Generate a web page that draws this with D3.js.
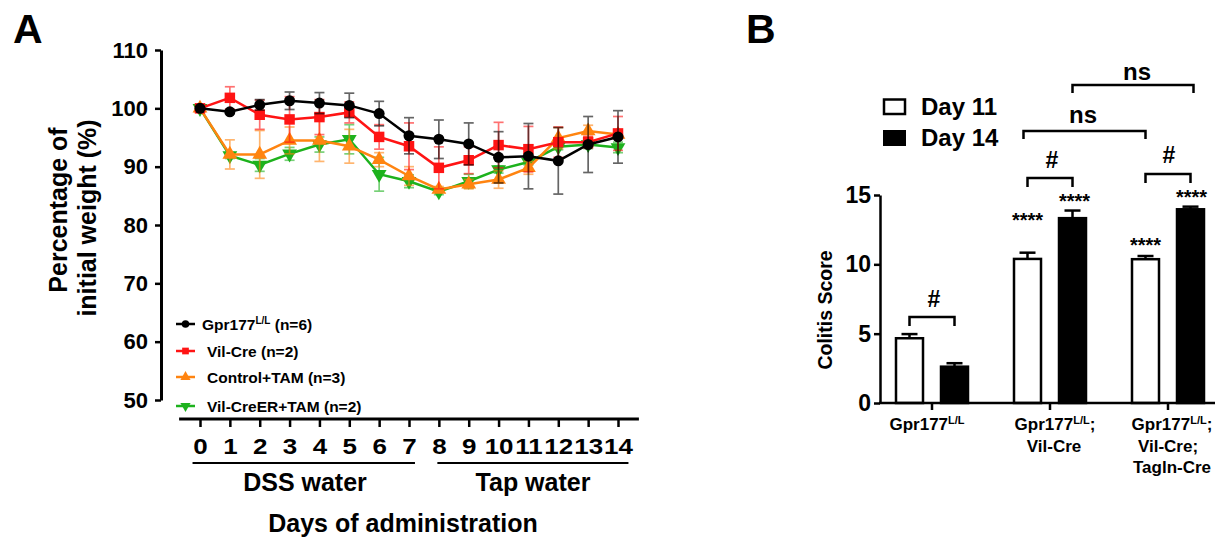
<!DOCTYPE html>
<html><head><meta charset="utf-8">
<script src="https://cdn.jsdelivr.net/npm/d3@7"></script>
<style>
body{margin:0;background:#fff}
svg text{font-family:"Liberation Sans",Arial,Helvetica,sans-serif;font-weight:bold;fill:#000}
</style></head><body>
<svg id="c" width="1223" height="541"></svg>
<script>
// ---------- Panel A data ----------
const days = [0,1,2,3,4,5,6,7,8,9,10,11,12,13,14];
const yTicksA = [50,60,70,80,90,100,110];
const gprMean = [100,99.4,100.6,101.3,100.9,100.5,99.1,95.3,94.7,93.9,91.6,91.8,91.0,93.8,95.1];
const gprErr  = [0,0.3,0.9,1.5,1.8,2.1,2.1,3.1,3.3,3.6,4.4,5.6,5.7,4.8,4.5];
const vilMean = [100,101.8,98.9,98.1,98.5,99.3,95.1,93.5,89.8,91.1,93.7,93.0,94.2,94.2,95.7];
const vilErr  = [0,1.9,2.5,3.9,3.0,1.8,2.1,4.0,3.6,2.3,3.9,3.9,2.6,1.0,2.9];
const ctlMean = [100,92.1,92.1,94.5,94.5,93.5,91.2,88.4,86.1,87.0,87.8,89.8,94.9,96.1,95.5];
const ctlErr  = [0,2.5,4.1,2.3,3.6,2.9,1.2,1.6,0.5,0.8,1.5,1.1,1.8,1.0,0.6];
const ertMean = [100,91.9,90.3,92.2,93.8,94.7,88.7,87.5,85.7,87.5,89.5,90.8,93.4,93.8,93.3];
const ertErr  = [0,0.5,1.1,1.1,1.3,2.5,2.9,1.1,0.5,1.2,0.6,0.5,0.5,0.7,0.9];
const seriesNames = ["Gpr177","Vil-Cre (n=2)","Control+TAM (n=3)","Vil-CreER+TAM (n=2)"];

// ---------- Panel B data ----------
const groupsB = ["g1","g2","g3"];
const day11 = [4.67,10.39,10.37];
const day11Err = [0.30,0.45,0.23];
const day14 = [2.62,13.33,13.97];
const day14Err = [0.25,0.55,0.19];
const yTicksB = [0,5,10,15];

const svg = d3.select("#c");
const FONT = '"Liberation Sans",Arial,sans-serif';

// Panel labels
svg.append("text").attr("x",13).attr("y",43).style("font-size","41px").text("A");
svg.append("text").attr("x",746).attr("y",43).style("font-size","41px").text("B");

// ================= Panel A =================
const xA = d3.scaleLinear().domain([0,14]).range([200,618]);
const yA = d3.scaleLinear().domain([50,110]).range([400,50]);

const gy = svg.append("g").attr("transform","translate(161,0)")
  .call(d3.axisLeft(yA).tickValues(yTicksA).tickSize(6).tickPadding(7).tickSizeOuter(0));
gy.select(".domain").attr("stroke","#000").attr("stroke-width",3);
gy.selectAll(".tick line").attr("stroke-width",2.5);
gy.selectAll(".tick text").style("font-size","22px").style("font-family",FONT).style("font-weight","bold").attr("fill","#000");

const gx = svg.append("g").attr("transform","translate(0,419)")
  .call(d3.axisBottom(xA).tickValues(days).tickSize(8).tickPadding(11));
gx.select(".domain").remove();
gx.append("line").attr("x1",xA(-0.7)).attr("x2",xA(14.7)).attr("stroke","#000").attr("stroke-width",3);
gx.selectAll(".tick line").attr("stroke-width",2.5);
gx.selectAll(".tick text").style("font-size","22px").style("font-family",FONT).style("font-weight","bold").attr("fill","#000")
  .attr("transform","scale(1.18,1)");

// phase underlines
svg.append("line").attr("x1",xA(-0.25)).attr("x2",xA(7.2)).attr("y1",463).attr("y2",463).attr("stroke","#000").attr("stroke-width",2);
svg.append("line").attr("x1",xA(7.95)).attr("x2",xA(14.35)).attr("y1",463).attr("y2",463).attr("stroke","#000").attr("stroke-width",2);
svg.append("text").attr("x",305).attr("y",491).attr("text-anchor","middle").style("font-size","25px").text("DSS water");
svg.append("text").attr("x",533).attr("y",491).attr("text-anchor","middle").style("font-size","25px").text("Tap water");
svg.append("text").attr("x",403).attr("y",532).attr("text-anchor","middle").style("font-size","25px").text("Days of administration");

// y title
svg.append("text").attr("transform","translate(67,210) rotate(-90)").attr("text-anchor","middle").style("font-size","25px").text("Percentage of");
svg.append("text").attr("transform","translate(96,218) rotate(-90)").attr("text-anchor","middle").style("font-size","25px").text("initial weight (%)");

const series = [
  {mean:ertMean, err:ertErr, color:"#1db21d", sym:d3.symbolTriangle, rot:180},
  {mean:ctlMean, err:ctlErr, color:"#ff8410", sym:d3.symbolTriangle, rot:0},
  {mean:vilMean, err:vilErr, color:"#ff1414", sym:d3.symbolSquare, rot:0},
  {mean:gprMean, err:gprErr, color:"#000000", sym:d3.symbolCircle, rot:0}
];
const line = d3.line().x((d,i)=>xA(days[i])).y(d=>yA(d));
series.forEach(s=>{
  const g = svg.append("g");
  s.mean.forEach((m,i)=>{
    const e = s.err[i]; if(!e) return;
    const x = xA(days[i]);
    const eg = g.append("g").attr("stroke",s.color).attr("stroke-width",1.7).attr("opacity",0.6);
    eg.append("line").attr("x1",x).attr("x2",x).attr("y1",yA(m-e)).attr("y2",yA(m+e));
    eg.append("line").attr("x1",x-5).attr("x2",x+5).attr("y1",yA(m-e)).attr("y2",yA(m-e));
    eg.append("line").attr("x1",x-5).attr("x2",x+5).attr("y1",yA(m+e)).attr("y2",yA(m+e));
  });
  g.append("path").datum(s.mean).attr("d",line).attr("fill","none").attr("stroke",s.color).attr("stroke-width",2.5);
  const size = s.sym===d3.symbolSquare?110:95;
  g.selectAll("path.m").data(s.mean).enter().append("path").attr("class","m")
    .attr("d",d3.symbol().type(s.sym).size(size))
    .attr("transform",(d,i)=>`translate(${xA(days[i])},${yA(d)}) rotate(${s.rot})`)
    .attr("fill",s.color);
});

// Legend A
const legA = [
  {color:"#000000", sym:d3.symbolCircle, rot:0, y:324, tx:202},
  {color:"#ff1414", sym:d3.symbolSquare, rot:0, y:351, tx:207},
  {color:"#ff8410", sym:d3.symbolTriangle, rot:0, y:377, tx:207},
  {color:"#1db21d", sym:d3.symbolTriangle, rot:180, y:406, tx:207}
];
legA.forEach((l,i)=>{
  svg.append("line").attr("x1",176).attr("x2",195).attr("y1",l.y).attr("y2",l.y).attr("stroke",l.color).attr("stroke-width",2.5);
  svg.append("path").attr("d",d3.symbol().type(l.sym).size(45)).attr("transform",`translate(185.5,${l.y}) rotate(${l.rot})`).attr("fill",l.color);
  const t = svg.append("text").attr("x",l.tx).attr("y",l.y+5.5).style("font-size","15.5px");
  if(i===0){
    t.append("tspan").text("Gpr177");
    t.append("tspan").attr("dy",-6).style("font-size","10px").text("L/L");
    t.append("tspan").attr("dy",6).text(" (n=6)");
  } else t.text(seriesNames[i]);
});

// ================= Panel B =================
const xB = d3.scaleBand().domain(groupsB).range([873,1227]);
const yB = d3.scaleLinear().domain([0,15]).range([403,195]);
const off = 22.5, bw = 27;

const gyB = svg.append("g").attr("transform","translate(880,0)")
  .call(d3.axisLeft(yB).tickValues(yTicksB).tickSize(6).tickPadding(3).tickSizeOuter(0));
gyB.select(".domain").attr("stroke-width",2.5);
gyB.selectAll(".tick line").attr("stroke-width",2.5);
gyB.selectAll(".tick text").style("font-size","23px").style("font-family",FONT).style("font-weight","bold").attr("fill","#000");

svg.append("text").attr("transform","translate(832,310) rotate(-90)").attr("text-anchor","middle").style("font-size","19.5px").text("Colitis Score");

const cx = g => xB(g)+xB.bandwidth()/2;
function errB(x, v, e){
  svg.append("line").attr("x1",x).attr("x2",x).attr("y1",yB(v)).attr("y2",yB(v+e)).attr("stroke","#000").attr("stroke-width",2.5);
  svg.append("line").attr("x1",x-8).attr("x2",x+8).attr("y1",yB(v+e)).attr("y2",yB(v+e)).attr("stroke","#000").attr("stroke-width",2.5);
}
groupsB.forEach((g,i)=>{
  const x1 = cx(g)-off, x2 = cx(g)+off;
  errB(x1, day11[i], day11Err[i]);
  errB(x2, day14[i], day14Err[i]);
  svg.append("rect").attr("x",x1-bw/2).attr("y",yB(day11[i])).attr("width",bw).attr("height",yB(0)-yB(day11[i]))
    .attr("fill","#fff").attr("stroke","#000").attr("stroke-width",2.5);
  svg.append("rect").attr("x",x2-bw/2).attr("y",yB(day14[i])).attr("width",bw).attr("height",yB(0)-yB(day14[i]))
    .attr("fill","#000").attr("stroke","#000").attr("stroke-width",2.5);
});

const gxB = svg.append("g").attr("transform","translate(0,403)");
gxB.append("line").attr("x1",879).attr("x2",1215).attr("stroke","#000").attr("stroke-width",2.5);
groupsB.forEach(g=>gxB.append("line").attr("x1",cx(g)).attr("x2",cx(g)).attr("y1",0).attr("y2",7).attr("stroke","#000").attr("stroke-width",2.5));

function gprLabel(x,y,semi){
  const t = svg.append("text").attr("x",x).attr("y",y).attr("text-anchor","middle").style("font-size","17px");
  t.append("tspan").text("Gpr177");
  t.append("tspan").attr("dy",-6).style("font-size","11px").text("L/L");
  t.append("tspan").attr("dy",6).text(semi?";":"");
}
gprLabel(cx("g1")-5,430,false);
gprLabel(cx("g2")+5,430,true);
gprLabel(cx("g3")+4,430,true);
svg.append("text").attr("x",cx("g2")+4).attr("y",452).attr("text-anchor","middle").style("font-size","17px").text("Vil-Cre");
svg.append("text").attr("x",cx("g3")).attr("y",452).attr("text-anchor","middle").style("font-size","17px").text("Vil-Cre;");
svg.append("text").attr("x",cx("g3")+4).attr("y",473).attr("text-anchor","middle").style("font-size","17px").text("Tagln-Cre");

// legend B
svg.append("rect").attr("x",884).attr("y",99.5).attr("width",21).attr("height",14.5).attr("fill","#fff").attr("stroke","#000").attr("stroke-width",2.5);
svg.append("rect").attr("x",883).attr("y",130).attr("width",23).attr("height",16).attr("fill","#000");
svg.append("text").attr("x",921).attr("y",114.5).style("font-size","24px").text("Day 11");
svg.append("text").attr("x",921).attr("y",145.5).style("font-size","24px").text("Day 14");

function bracket(xa, xb, yTop, drop){
  svg.append("path").attr("d",`M${xa},${yTop+drop}V${yTop}H${xb}V${yTop+drop}`)
    .attr("fill","none").attr("stroke","#000").attr("stroke-width",2.5);
}
function label(x,y,txt,size){
  svg.append("text").attr("x",x).attr("y",y).attr("text-anchor","middle").style("font-size",size).text(txt);
}
bracket(cx("g1")-off, cx("g1")+off, 317, 9);
label(cx("g1")+2, 307, "#", "23px");
bracket(cx("g2")-off, cx("g2")+off, 178, 9);
label(cx("g2")+2, 168, "#", "23px");
bracket(cx("g3")-off, cx("g3")+off, 174, 9);
label(cx("g3")+1, 163, "#", "23px");
bracket(cx("g2")-off-4, cx("g3")-off, 131, 8);
label(1083, 123, "ns", "24px");
bracket(cx("g2")+off, cx("g3")+off+3, 85, 8);
label(1137, 80, "ns", "24px");
label(cx("g2")-off, 227, "****", "20px");
label(cx("g2")+off+2, 208, "****", "20px");
label(cx("g3")-off, 252, "****", "20px");
label(cx("g3")+off+1, 204, "****", "20px");
</script>
</body></html>
